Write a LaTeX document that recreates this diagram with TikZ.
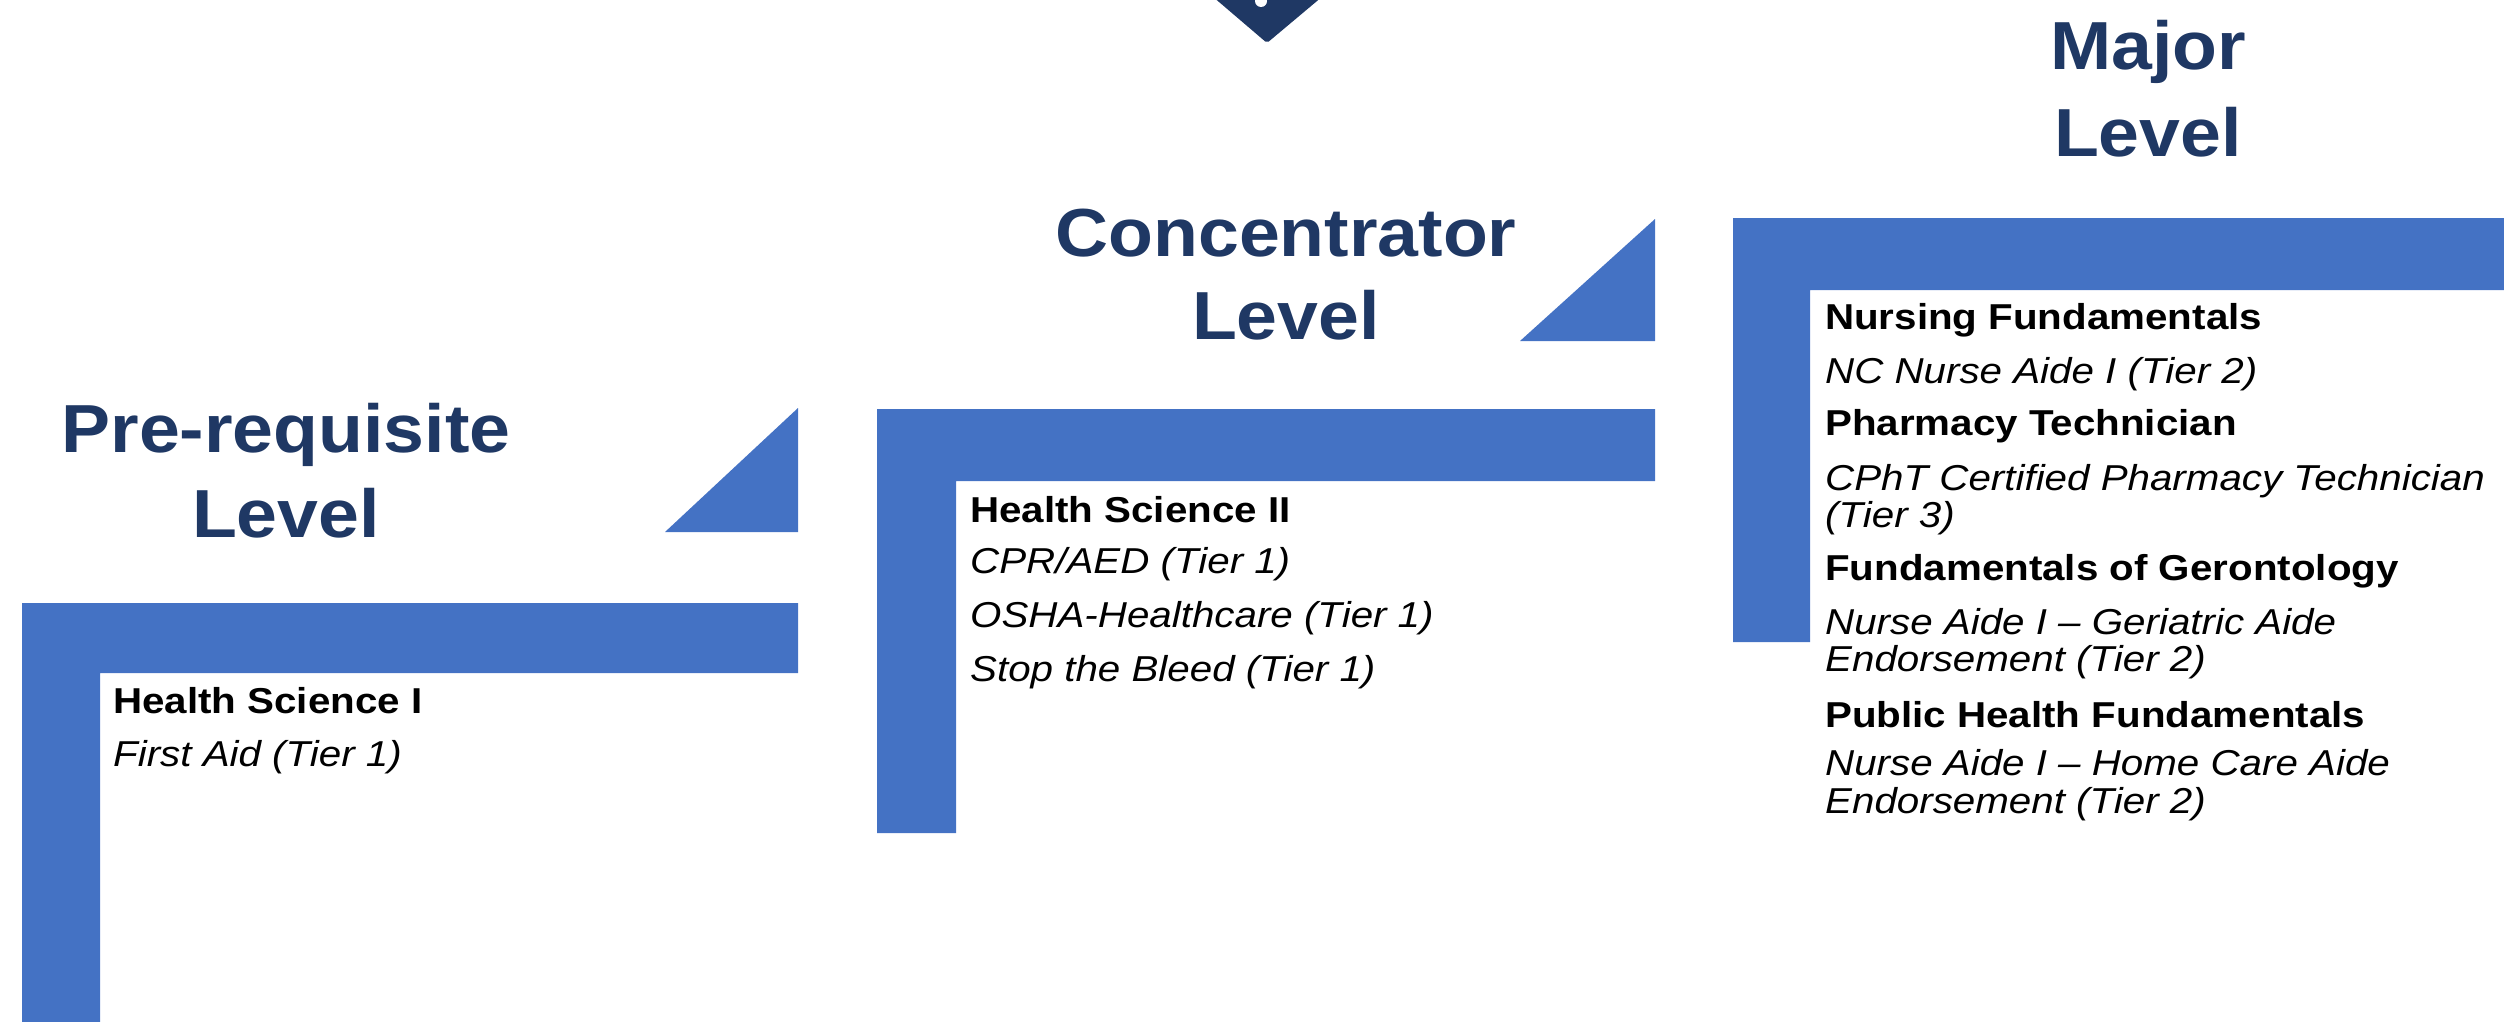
\documentclass[tikz,border=0pt]{standalone}
\usepackage{fontspec}
\setmainfont{Liberation Sans}[FakeStretch=1.12]
\newfontfamily\headfont{Liberation Sans}[FakeStretch=1.08]

\definecolor{barblue}{RGB}{68,114,196}
\definecolor{headblue}{RGB}{31,56,100}

\tikzset{stepbar/.style = {fill = barblue},
         stepwedge/.style = {fill = barblue},
         lvltitle/.style = {text = headblue,
                            inner sep = 0pt,
                            anchor = base,
                            font = \headfont\bfseries\fontsize{68}{68}\selectfont},
         course/.style = {text = black,
                          inner sep = 0pt,
                          anchor = base west,
                          font = \bfseries\fontsize{36}{36}\selectfont},
         credential/.style = {course,
                              font = \itshape\fontsize{36}{36}\selectfont}}

\begin{document}
\begin{tikzpicture}[x=1pt, y=-1pt]
	\useasboundingbox (0,0) rectangle (2504,1022);

	% tip of the badge at the top
	\fill[headblue, rounded corners=2pt] (1212,-4) -- (1323,-4) -- (1267,43) -- cycle;
	\fill[white] (1261,1) circle (6pt);

	% step 1
	\fill[stepbar] (22,603) -- (798,603) -- (798,673) -- (100,673) -- (100,1022) -- (22,1022) -- cycle;
	\fill[stepwedge] (665,532) -- (798,532) -- (798,408) -- cycle;
	\node[lvltitle] (pre) at (286,452) {Pre-requisite};
	\node[lvltitle] (prelvl) at (286,537) {Level};
	\node[course] (hs1) at (113,713) {Health Science I};
	\node[credential] (aid) at (113,766) {First Aid (Tier 1)};

	% step 2
	\fill[stepbar] (877,409) -- (1655,409) -- (1655,481) -- (956,481) -- (956,833) -- (877,833) -- cycle;
	\fill[stepwedge] (1520,341) -- (1655,341) -- (1655,219) -- cycle;
	\node[lvltitle] (conc) at (1286,256) {Concentrator};
	\node[lvltitle] (conclvl) at (1286,339) {Level};
	\node[course] (hs2) at (970,522) {Health Science II};
	\node[credential] (cpr) at (970,573) {CPR/AED (Tier 1)};
	\node[credential] (osha) at (970,627) {OSHA-Healthcare (Tier 1)};
	\node[credential] (bleed) at (970,681) {Stop the Bleed (Tier 1)};

	% step 3
	\fill[stepbar] (1733,218) -- (2504,218) -- (2504,290) -- (1810,290) -- (1810,642) -- (1733,642) -- cycle;
	\node[lvltitle] (major) at (2148,70) {Major};
	\node[lvltitle] (majlvl) at (2148,157) {Level};
	\node[course] (nurs) at (1825,329) {Nursing Fundamentals};
	\node[credential] (nca) at (1825,383) {NC Nurse Aide I (Tier 2)};
	\node[course] (pharm) at (1825,435) {Pharmacy Technician};
	\node[credential] (cpht) at (1825,490) {CPhT Certified Pharmacy Technician};
	\node[credential] (cpht2) at (1825,527) {(Tier 3)};
	\node[course] (geront) at (1825,580) {Fundamentals of Gerontology};
	\node[credential] (geri) at (1825,634) {Nurse Aide I – Geriatric Aide};
	\node[credential] (geri2) at (1825,671) {Endorsement (Tier 2)};
	\node[course] (pubh) at (1825,727) {Public Health Fundamentals};
	\node[credential] (home) at (1825,775) {Nurse Aide I – Home Care Aide};
	\node[credential] (home2) at (1825,813) {Endorsement (Tier 2)};
\end{tikzpicture}
\end{document}
